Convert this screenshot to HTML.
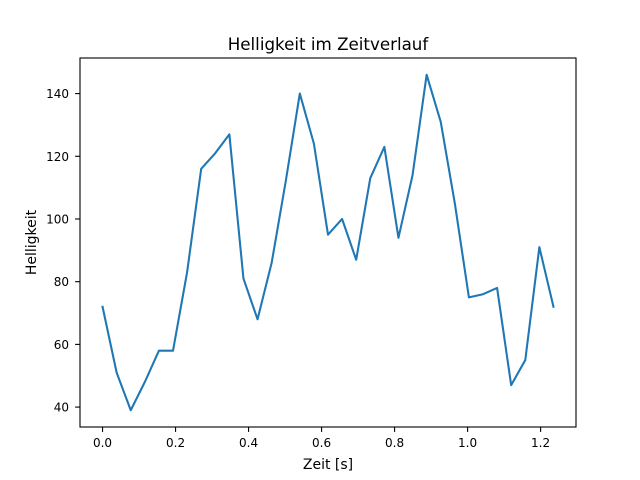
<!DOCTYPE html>
<html><head><meta charset="utf-8"><style>
body{margin:0;background:#fff}
svg{display:block;font-family:"DejaVu Sans","Liberation Sans",sans-serif}
</style></head><body>
<svg id="c" width="640" height="480" viewBox="0 0 640 480">
<rect width="640" height="480" fill="#fff"/>
<text x="328" y="50" font-size="16.7" text-anchor="middle">Helligkeit im Zeitverlauf</text>
<text x="328" y="469" font-size="14" text-anchor="middle">Zeit [s]</text>
<text transform="translate(36,242.5) rotate(-90)" font-size="14" text-anchor="middle">Helligkeit</text>
<g id="ticks"></g>
<polyline id="line" fill="none" stroke="#1f77b4" stroke-width="2.08" stroke-linejoin="round" stroke-linecap="square"/>
<rect x="80" y="58" width="496" height="369" fill="none" stroke="#000" stroke-width="1.1"/>
</svg>
<script>
const values = [72,51,39,48,58,58,83,116,121,127,81,68,86,112,140,124,95,100,87,113,123,94,114,146,131,105,75,76,78,47,55,91,72];
const timeStep = 0.0386;
const xTicks = [0.0,0.2,0.4,0.6,0.8,1.0,1.2];
const xTickLabels = ["0.0","0.2","0.4","0.6","0.8","1.0","1.2"];
const yTicks = [40,60,80,100,120,140];

const times = values.map((v,i)=>i*timeStep);
const L=80,R=576,T=58,B=427;
const xmin0=Math.min(...times), xmax0=Math.max(...times), xm=(xmax0-xmin0)*0.05;
const ymin0=Math.min(...values), ymax0=Math.max(...values), ym=(ymax0-ymin0)*0.05;
const x=t=>L+(t-(xmin0-xm))/((xmax0+xm)-(xmin0-xm))*(R-L);
const y=v=>B-(v-(ymin0-ym))/((ymax0+ym)-(ymin0-ym))*(B-T);
const NS="http://www.w3.org/2000/svg";
const g=document.getElementById('ticks');
function mk(tag,attrs){const e=document.createElementNS(NS,tag);for(const k in attrs)e.setAttribute(k,attrs[k]);return e;}
xTicks.forEach((t,i)=>{
  const px=x(t);
  const l=mk('line',{x1:px,x2:px,y1:B,y2:B+4.9,stroke:'#000','stroke-width':1.1});
  
  
  g.appendChild(l);
  const tx=mk('text',{x:px,y:B+20,'font-size':12,'text-anchor':'middle'});
  tx.textContent=xTickLabels[i];
  
  
  g.appendChild(tx);
});
yTicks.forEach(v=>{
  const py=y(v);
  const l=mk('line',{x1:L-4.9,x2:L,y1:py,y2:py,stroke:'#000','stroke-width':1.1});
  
  
  g.appendChild(l);
  const tx=mk('text',{x:L-11,y:py+4.5,'font-size':12,'text-anchor':'end'});
  tx.textContent=String(v);
  
  
  g.appendChild(tx);
});
document.getElementById('line').setAttribute('points',values.map((v,i)=>x(times[i]).toFixed(2)+','+y(v).toFixed(2)).join(' '));
</script>
</body></html>
